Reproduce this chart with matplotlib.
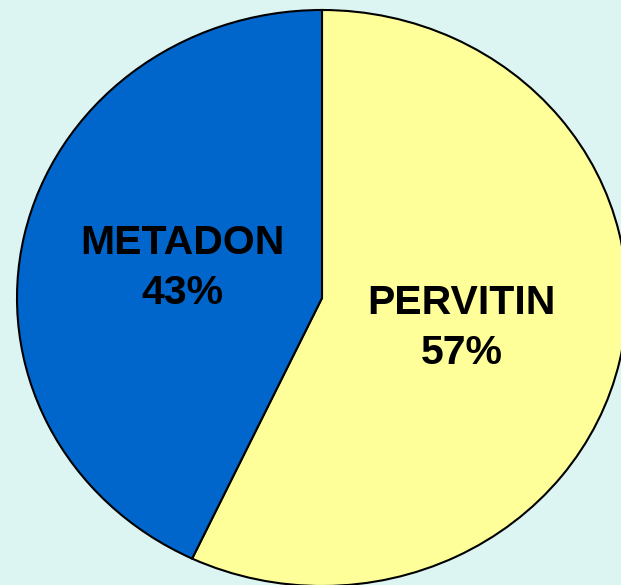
import matplotlib.pyplot as plt

# data
drugs = ["PERVITIN", "METADON"]
shares = [57, 43]
colors = ["#FFFF99", "#0066CC"]

bg = "#DDF5F2"

fig = plt.figure(figsize=(6.21, 5.85), dpi=100, facecolor=bg)
ax = fig.add_axes([0, 0, 1, 1])
ax.set_facecolor(bg)

labels = [f"{d}\n{s}%" for d, s in zip(drugs, shares)]
wedges, texts = ax.pie(shares, labels=labels, colors=colors, startangle=90,
                       counterclock=False, labeldistance=0.47,
                       wedgeprops=dict(edgecolor="black", linewidth=1.5),
                       textprops=dict(fontsize=29.5, fontweight="bold",
                                      family="Liberation Sans", color="black",
                                      ha="center", va="center", linespacing=1.4))

# pie is slightly stretched sideways and cropped at right/bottom
ax.set_aspect("auto")
ax.set_xlim(-1.0557, 0.9803)
ax.set_ylim(-0.9965, 1.0347)
ax.axis("off")

fig.savefig("out.png", dpi=100, facecolor=bg)
